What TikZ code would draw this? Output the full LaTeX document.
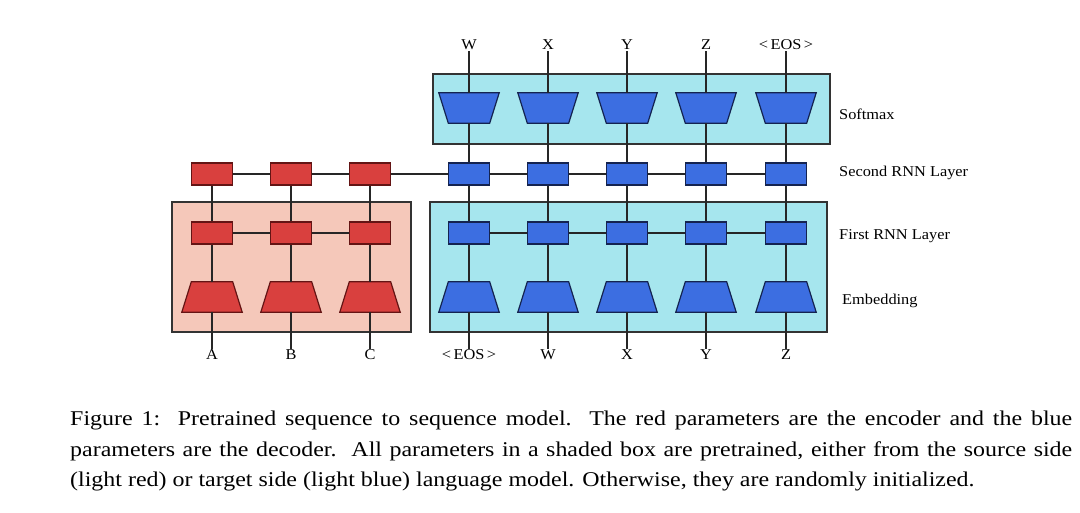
\documentclass[tikz,border=0pt]{standalone}
\usepackage{fontspec}
\setmainfont[FakeStretch=1.09]{Liberation Serif}
\newfontfamily\capfont[FakeStretch=1.14]{Liberation Serif}
\usetikzlibrary{calc}
\definecolor{encfill}{RGB}{217,64,62}
\definecolor{encdraw}{RGB}{100,20,20}
\definecolor{decfill}{RGB}{60,110,225}
\definecolor{decdraw}{RGB}{20,35,80}
\definecolor{lightred}{RGB}{245,200,186}
\definecolor{lightblue}{RGB}{166,230,238}
\tikzset{
  rnnbox/.style={rectangle, minimum width=41pt, minimum height=22pt, inner sep=0pt, line width=1.2pt},
  enc/.style={fill=encfill, draw=encdraw},
  dec/.style={fill=decfill, draw=decdraw},
  trapslot/.style={rectangle, minimum width=60pt, minimum height=30pt, inner sep=0pt},
  trapline/.style={line width=1.2pt, line join=miter},
  shadebox/.style={draw=black!80, line width=1.2pt},
  wire/.style={draw=black!85, line width=1.1pt},
  tok/.style={font=\fontsize{15}{18}\selectfont, inner sep=1pt},
  layerlbl/.style={font=\fontsize{15}{18}\selectfont, anchor=west, inner sep=0pt},
  caption/.style={font=\capfont\fontsize{21}{30}\selectfont, anchor=west, inner sep=0pt}
}
% wide-bottom trapezoid on named slot #1 with style #2
\newcommand{\embshape}[2]{\filldraw[trapline,#2] (#1.south west) -- (#1.south east) -- ($(#1.north east)+(-9.5,0)$) -- ($(#1.north west)+(9.5,0)$) -- cycle;}
\newcommand{\smshape}[2]{\filldraw[trapline,#2] (#1.north west) -- (#1.north east) -- ($(#1.south east)+(-9.5,0)$) -- ($(#1.south west)+(9.5,0)$) -- cycle;}
\begin{document}
\begin{tikzpicture}[x=1pt,y=-1pt]
\useasboundingbox (0,0) rectangle (1080,513);
% shaded boxes
\filldraw[shadebox, fill=lightred] (172,202) rectangle (411,332);
\filldraw[shadebox, fill=lightblue] (430,202) rectangle (827,332);
\filldraw[shadebox, fill=lightblue] (433,74) rectangle (830,144);
% encoder
\foreach \i/\x/\t in {1/212/A, 2/291/B, 3/370/C}{
  \node[trapslot] (ee\i) at (\x,297) {};
  \embshape{ee\i}{enc}
  \node[rnnbox, enc] (ef\i) at (\x,233) {};
  \node[rnnbox, enc] (es\i) at (\x,174) {};
  \node[tok] (ein\i) at (\x,355) {\t};
}
% decoder
\foreach \i/\x/\t/\o in {1/469/{<\,EOS\,>}/W, 2/548/W/X, 3/627/X/Y, 4/706/Y/Z, 5/786/Z/{<\,EOS\,>}}{
  \node[trapslot] (de\i) at (\x,297) {};
  \embshape{de\i}{dec}
  \node[rnnbox, dec] (df\i) at (\x,233) {};
  \node[rnnbox, dec] (ds\i) at (\x,174) {};
  \node[trapslot] (dm\i) at (\x,108) {};
  \smshape{dm\i}{dec}
  \node[tok] (din\i) at (\x,355) {\t};
  \node[tok] (dout\i) at (\x,45) {\o};
}
% wires
\foreach \i in {1,2,3}{
  \draw[wire] (ein\i.north) -- (ee\i.south);
  \draw[wire] (ee\i.north) -- (ef\i.south);
  \draw[wire] (ef\i.north) -- (es\i.south);
}
\foreach \i in {1,...,5}{
  \draw[wire] (din\i.north) -- (de\i.south);
  \draw[wire] (de\i.north) -- (df\i.south);
  \draw[wire] (df\i.north) -- (ds\i.south);
  \draw[wire] (ds\i.north) -- (dm\i.south);
  \draw[wire] (dm\i.north) -- (dout\i.south);
}
\draw[wire] (ef1) -- (ef2); \draw[wire] (ef2) -- (ef3);
\draw[wire] (es1) -- (es2); \draw[wire] (es2) -- (es3); \draw[wire] (es3) -- (ds1);
\foreach \a/\b in {1/2,2/3,3/4,4/5}{
  \draw[wire] (df\a) -- (df\b);
  \draw[wire] (ds\a) -- (ds\b);
}
% layer labels
\node[layerlbl] (lsm) at (839,114) {Softmax};
\node[layerlbl] (lsec) at (839,173) {Second RNN Layer};
\node[layerlbl] (lfir) at (839,236) {First RNN Layer};
\node[layerlbl] (lemb) at (842,301) {Embedding};
% caption
\node[caption] (c1) at (70,420) {\makebox[1002pt][s]{Figure 1:\ \ Pretrained sequence to sequence model.\ \ The red parameters are the encoder and the blue}};
\node[caption] (c2) at (70,451) {\makebox[1002pt][s]{parameters are the decoder.\ \ All parameters in a shaded box are pretrained, either from the source side}};
\node[caption] (c3) at (70,481) {(light red) or target side (light blue) language model. Otherwise, they are randomly initialized.};
\end{tikzpicture}
\end{document}
